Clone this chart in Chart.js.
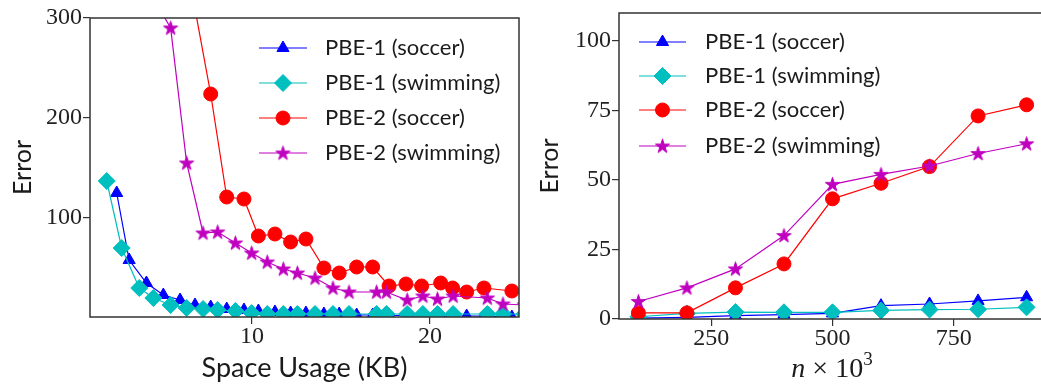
<!DOCTYPE html>
<html><head><meta charset="utf-8">
<script src="https://cdn.jsdelivr.net/npm/chart.js@4.4.1/dist/chart.umd.min.js"></script>
<style>
html,body{margin:0;padding:0;background:#fff;overflow:hidden;width:1041px;height:386px;position:relative;}
#c1{position:absolute;left:0;top:0;}
#c2{position:absolute;left:520px;top:0;}
</style></head><body>
<canvas id="c1" width="530" height="386"></canvas>
<canvas id="c2" width="540" height="386"></canvas>
<script>
// ---------------- data ----------------
const seriesLabels = ['PBE-1 (soccer)', 'PBE-1 (swimming)', 'PBE-2 (soccer)', 'PBE-2 (swimming)'];

// Left panel: Error vs Space Usage (KB)
const soccerSpaceKB   = [2.4, 3.1, 4.07, 5.02, 5.96, 6.8, 7.68, 8.58, 9.55, 10.36, 11.29, 12.17, 13.03, 14.04, 14.9, 15.88, 16.78, 17.7, 18.65, 19.53, 20.6, 21.27, 22.06, 23.03, 24.6];
const swimmingSpaceKB = [1.84, 2.68, 3.67, 4.46, 5.43, 6.33, 7.25, 8.07, 9.07, 9.98, 10.86, 11.76, 12.55, 13.54, 14.55, 15.45, 17.0, 17.55, 18.72, 19.6, 20.42, 21.3, 23.22, 24.1, 25.3];
const spacePBE1Soccer   = [125, 58, 35, 23, 18, 13, 11, 9, 8, 7, 6, 5, 5, 4, 4, 3, 3, 3, 2, 2, 2, 2, 2, 2, 1];
const spacePBE1Swimming = [137, 70, 30, 20, 13, 10, 9, 8, 7, 5, 4, 4, 4, 4, 4, 4, 4, 4, 4, 4, 4, 4, 4, 4, 4];
const spacePBE2Soccer   = [null, null, null, null, null, 309, 224, 121, 119, 82, 84, 76, 79, 50, 45, 51, 51, 32, 34, 32, 35, 30, 26, 30, 27];
const spacePBE2Swimming = [null, null, null, 320, 290, 155, 85, 86, 75, 65, 56, 49, 45, 40, 30, 26, 26, 26, 18, 22, 19, 22, 20, 14, 13];
const leftXTicks = [10, 20];
const leftYTicks = [100, 200, 300];

// Right panel: Error vs n x 10^3
const nThousands      = [100, 200, 300, 400, 500, 600, 700, 800, 900];
const nPBE1Soccer     = [0.3, 0.6, 1.2, 1.6, 2.0, 4.8, 5.4, 6.5, 7.8];
const nPBE1Swimming   = [0.8, 2.0, 2.5, 2.4, 2.4, 3.1, 3.4, 3.5, 4.2];
const nPBE2Soccer     = [2.2, 2.2, 11.2, 19.8, 43.2, 48.8, 54.8, 73, 77];
const nPBE2Swimming   = [6.3, 11.2, 18, 30, 48.4, 52, 55, 59.5, 63];
const rightXTicks = [250, 500, 750];
const rightYTicks = [0, 25, 50, 75, 100];

// ---------------- styles ----------------
const COLORS = ['#0000ff', '#00bfbf', '#ff0000', '#bf00bf'];
function makeStar(color, R) {
  const s = Math.ceil(2 * R + 4);
  const c = document.createElement('canvas');
  c.width = s; c.height = s;
  const g = c.getContext('2d');
  const cx = s / 2, cy = s / 2 + 0.5;
  g.beginPath();
  for (let i = 0; i < 10; i++) {
    const a = -Math.PI / 2 + i * Math.PI / 5;
    const r = (i % 2) ? R * 0.382 : R;
    const px = cx + r * Math.cos(a), py = cy + r * Math.sin(a);
    if (i === 0) g.moveTo(px, py); else g.lineTo(px, py);
  }
  g.closePath();
  g.fillStyle = color; g.fill();
  g.strokeStyle = color; g.lineWidth = 1; g.stroke();
  return c;
}
const STAR = makeStar(COLORS[3], 7.5);
const STYLES = ['triangle', 'rectRot', 'circle', STAR];
const RADII = [7, 8.5, 7, 7.5];
const SERIF = "'Liberation Serif', serif";
const SANS = "Lato, 'DejaVu Sans', sans-serif";

function ds(i, xs, ys) {
  return {
    label: seriesLabels[i],
    data: xs.map((x, k) => ({ x: x, y: ys[k] })).filter(p => p.y !== null && p.y !== undefined),
    showLine: true,
    borderColor: COLORS[i],
    backgroundColor: COLORS[i],
    borderWidth: 1.2,
    pointStyle: STYLES[i],
    pointRadius: RADII[i],
    pointHoverRadius: RADII[i],
    pointBorderWidth: 1,
    pointBorderColor: COLORS[i],
    pointBackgroundColor: COLORS[i],
    order: 4 - i,
    tension: 0
  };
}

function xScale(min, max, ticks, height, title) {
  return {
    type: 'linear', position: 'bottom', min: min, max: max,
    afterBuildTicks: s => { s.ticks = ticks.map(v => ({ value: v })); },
    afterFit: s => { s.height = height; s.paddingLeft = 0; s.paddingRight = 0; },
    grid: { drawOnChartArea: false, drawTicks: true, tickLength: 7, color: '#333', lineWidth: 1.2 },
    border: { display: false },
    ticks: { font: { family: SERIF, size: 24, lineHeight: 1 }, color: '#222', padding: 1, maxRotation: 0, autoSkip: false },
    title: title
  };
}
function yScale(min, max, ticks, width, title) {
  return {
    type: 'linear', position: 'left', min: min, max: max,
    afterBuildTicks: s => { s.ticks = ticks.map(v => ({ value: v })); },
    afterFit: s => { s.width = width; s.paddingTop = 0; s.paddingBottom = 0; },
    grid: { drawOnChartArea: false, drawTicks: true, tickLength: 7, color: '#333', lineWidth: 1.2 },
    border: { display: false },
    ticks: { font: { family: SERIF, size: 24, lineHeight: 1 }, color: '#222', padding: 1, autoSkip: false },
    title: title
  };
}

const framePlugin = {
  id: 'frame',
  afterDatasetsDraw(chart) {
    const { ctx, chartArea: a } = chart;
    ctx.save();
    ctx.strokeStyle = '#333';
    ctx.lineWidth = 1.5;
    ctx.strokeRect(a.left, a.top, a.right - a.left, a.bottom - a.top);
    ctx.restore();
  }
};

const inLegendPlugin = {
  id: 'inLegend',
  afterDraw(chart, args, o) {
    if (!o || !o.rows) return;
    const ctx = chart.ctx;
    ctx.save();
    chart.data.datasets.forEach((d, i) => {
      const y = o.rows[i];
      ctx.strokeStyle = d.borderColor;
      ctx.lineWidth = 1.2;
      ctx.beginPath(); ctx.moveTo(o.x0, y); ctx.lineTo(o.x1, y); ctx.stroke();
      ctx.fillStyle = d.pointBackgroundColor;
      ctx.strokeStyle = d.pointBorderColor;
      ctx.lineWidth = 1;
      Chart.helpers.drawPoint(ctx, { pointStyle: d.pointStyle, radius: d.pointRadius, borderWidth: 1, rotation: 0 }, (o.x0 + o.x1) / 2, y);
      ctx.fillStyle = '#1a1a1a';
      ctx.font = o.font;
      ctx.textBaseline = 'middle';
      ctx.textAlign = 'left';
      ctx.fillText(d.label, o.textX, y);
    });
    ctx.restore();
  }
};

const mathTitlePlugin = {
  id: 'mathTitle',
  afterDraw(chart, args, o) {
    if (!o || !o.show) return;
    const ctx = chart.ctx;
    ctx.save();
    ctx.fillStyle = '#1a1a1a';
    ctx.textBaseline = 'alphabetic';
    const f1 = "italic 28px " + SERIF, f2 = "28px " + SERIF, f3 = "19px " + SERIF;
    const parts = [[f1, 'n', 0], [f2, ' \u00d7 10', 0], [f3, '3', -12]];
    let total = 0;
    parts.forEach(p => { ctx.font = p[0]; total += ctx.measureText(p[1]).width; });
    let x = o.cx - total / 2;
    parts.forEach(p => { ctx.font = p[0]; ctx.fillText(p[1], x, o.baseline + p[2]); x += ctx.measureText(p[1]).width; });
    ctx.restore();
  }
};

Chart.register(framePlugin, inLegendPlugin, mathTitlePlugin);

const common = {
  responsive: false, animation: false, events: [],
  plugins: { legend: { display: false }, tooltip: { enabled: false } }
};

new Chart(document.getElementById('c1'), {
  type: 'scatter',
  data: { datasets: [
    ds(0, soccerSpaceKB, spacePBE1Soccer),
    ds(1, swimmingSpaceKB, spacePBE1Swimming),
    ds(2, soccerSpaceKB, spacePBE2Soccer),
    ds(3, swimmingSpaceKB, spacePBE2Swimming)
  ] },
  options: Object.assign({}, common, {
    layout: { padding: { top: 18, right: 11, left: 0, bottom: 0 } },
    scales: {
      x: xScale(0.9, 25, leftXTicks, 69, { display: true, text: 'Space Usage (KB)', font: { family: SANS, size: 27 }, color: '#1a1a1a', padding: { top: 0, bottom: 2 } }),
      y: yScale(1, 300, leftYTicks, 90, { display: true, text: 'Error', font: { family: SANS, size: 25 }, color: '#1a1a1a', padding: { top: 8, bottom: 0 } })
    },
    plugins: Object.assign({}, common.plugins, {
      inLegend: { x0: 259, x1: 307, textX: 325, rows: [48, 83, 118, 153], font: "22px " + SANS }
    })
  })
});

new Chart(document.getElementById('c2'), {
  type: 'scatter',
  data: { datasets: [
    ds(0, nThousands, nPBE1Soccer),
    ds(1, nThousands, nPBE1Swimming),
    ds(2, nThousands, nPBE2Soccer),
    ds(3, nThousands, nPBE2Swimming)
  ] },
  options: Object.assign({}, common, {
    layout: { padding: { top: 13, right: 14, left: 0, bottom: 0 } },
    scales: {
      x: xScale(60, 940, rightXTicks, 67, { display: false }),
      y: yScale(0, 110, rightYTicks, 99, { display: true, text: 'Error', font: { family: SANS, size: 25 }, color: '#1a1a1a', padding: { top: 15, bottom: 0 } })
    },
    plugins: Object.assign({}, common.plugins, {
      inLegend: { x0: 119, x1: 166, textX: 185, rows: [42, 76, 110, 146], font: "22px " + SANS },
      mathTitle: { show: true, cx: 312, baseline: 377 }
    })
  })
});
</script>
</body></html>
